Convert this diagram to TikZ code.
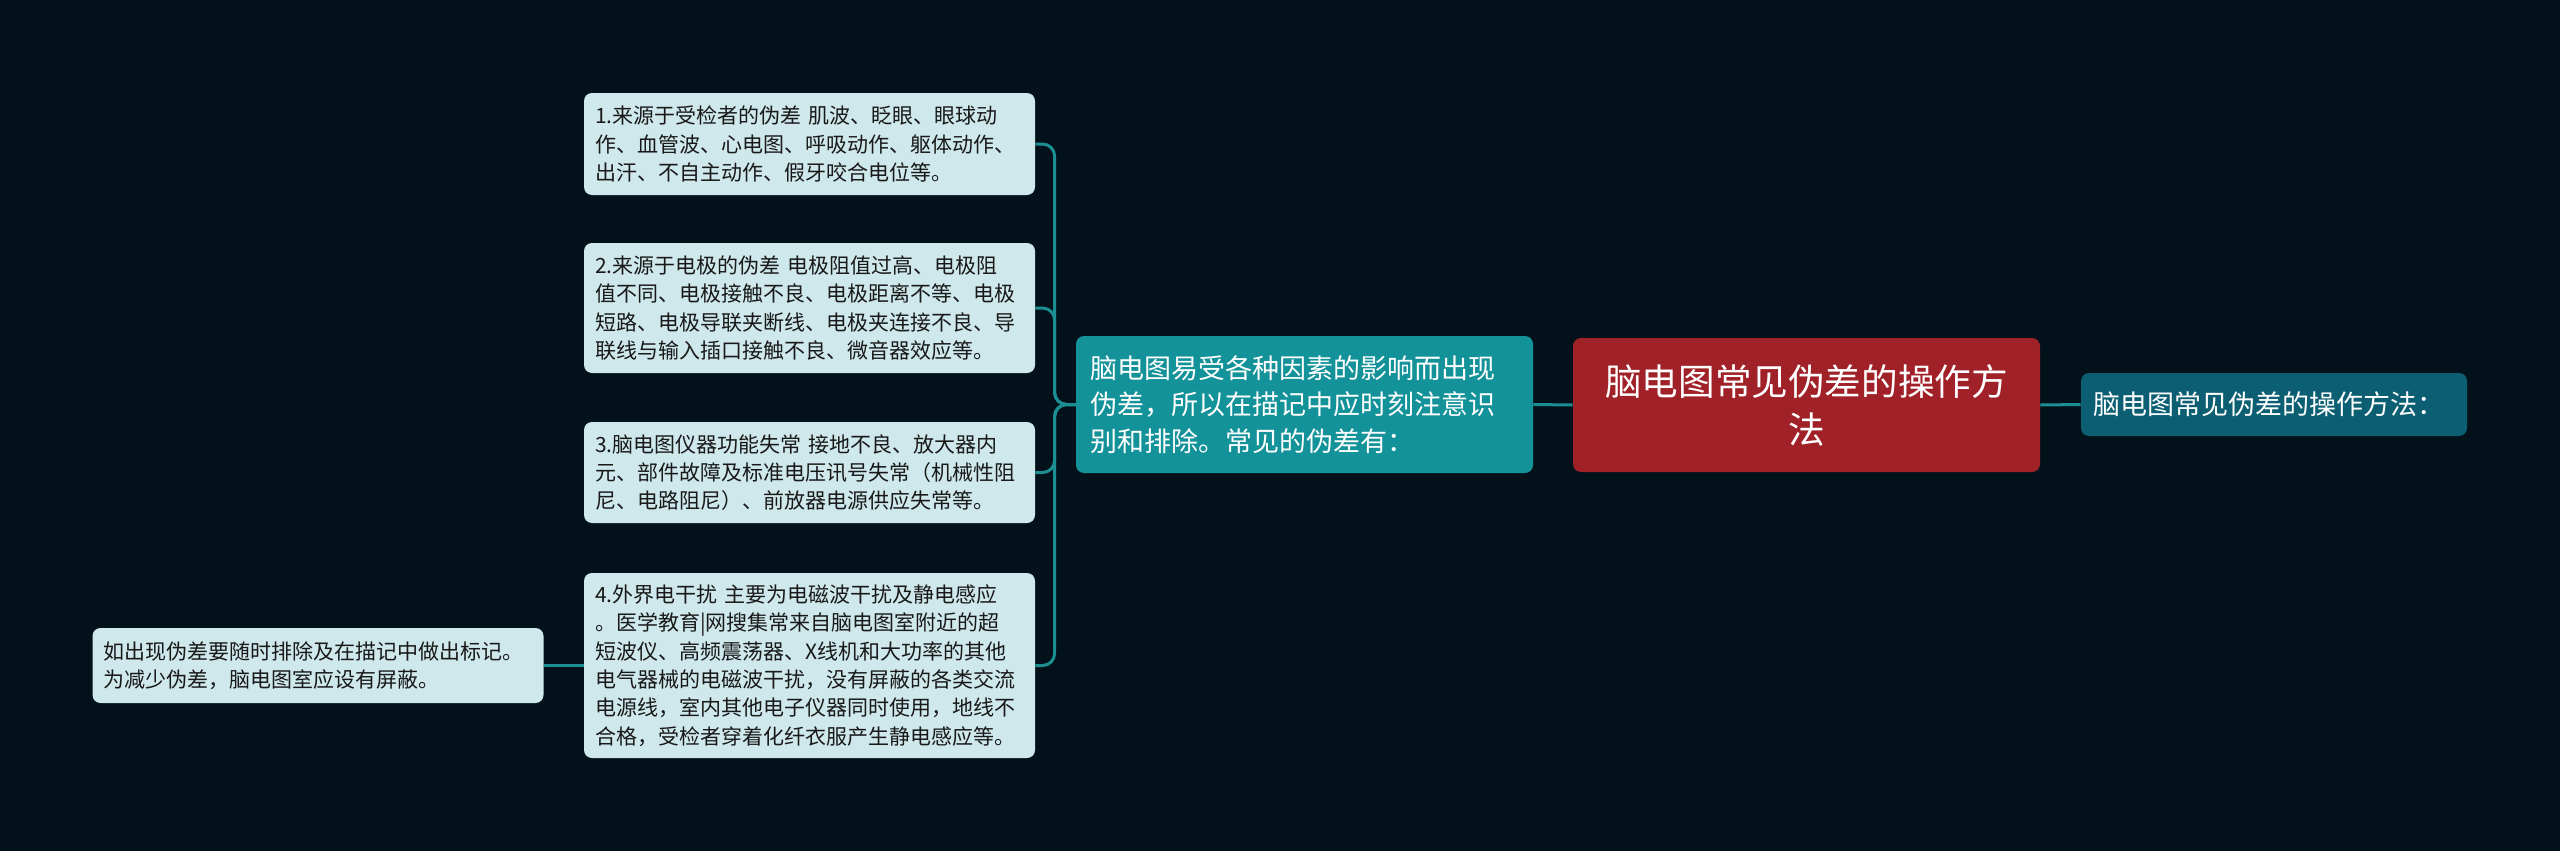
\documentclass[tikz,border=0pt]{standalone}
\usepackage{fontspec}
\setmainfont{Noto Sans CJK SC}

\definecolor{bgcol}{HTML}{03121A}
\definecolor{leafcol}{HTML}{CFE8EB}
\definecolor{midcol}{HTML}{13929A}
\definecolor{rootcol}{HTML}{A02228}
\definecolor{tipcol}{HTML}{0C5F72}
\definecolor{linkcol}{HTML}{1C8F93}

\tikzset{
  leaf/.style={fill=leafcol, text=black!90, rounded corners=4pt, align=left,
    inner xsep=5.5pt, text width=214.5pt, font=\fontsize{10.5}{14.15}\selectfont},
  midbox/.style={fill=midcol, text=white, rounded corners=4pt, align=left,
    inner xsep=7pt, text width=214.5pt, minimum height=68.5pt,
    font=\fontsize{13.5}{18.3}\selectfont},
  rootbox/.style={fill=rootcol, text=white, rounded corners=4pt, align=center,
    inner xsep=6.75pt, text width=220pt, minimum height=67pt,
    font=\fontsize{18.3}{24}\selectfont},
  tipbox/.style={fill=tipcol, text=white, rounded corners=4pt, align=left,
    inner xsep=6pt, text width=181pt, minimum height=31.5pt,
    font=\fontsize{13.5}{18}\selectfont},
  link/.style={draw=linkcol, line width=1.5pt, rounded corners=6pt}
}

\begin{document}
\begin{tikzpicture}[x=0.5pt, y=-0.5pt]

        %background
        \fill[bgcol] (0,0) rectangle (2560,851);

        %root and the right tip
        \node[rootbox] (root) at (1806.5,405) {脑电图常见伪差的操作方\\法};
        \node[tipbox] (tip) at (2274,404.5) {脑电图常见伪差的操作方法：};

        %middle summary
        \node[midbox] (mid) at (1304.5,404.5) {脑电图易受各种因素的影响而出现\\伪差，所以在描记中应时刻注意识\\别和排除。常见的伪差有：};

        %the four kinds of artefacts
        \node[leaf, minimum height=51pt] (src1) at (809.5,144) {1.来源于受检者的伪差 肌波、眨眼、眼球动\\作、血管波、心电图、呼吸动作、躯体动作、\\出汗、不自主动作、假牙咬合电位等。};
        \node[leaf, minimum height=65pt] (src2) at (809.5,308) {2.来源于电极的伪差 电极阻值过高、电极阻\\值不同、电极接触不良、电极距离不等、电极\\短路、电极导联夹断线、电极夹连接不良、导\\联线与输入插口接触不良、微音器效应等。};
        \node[leaf, minimum height=50.5pt] (src3) at (809.5,472.5) {3.脑电图仪器功能失常 接地不良、放大器内\\元、部件故障及标准电压讯号失常（机械性阻\\尼、电路阻尼）、前放器电源供应失常等。};
        \node[leaf, minimum height=92.5pt] (src4) at (809.5,665.5) {4.外界电干扰 主要为电磁波干扰及静电感应\\。医学教育|网搜集常来自脑电图室附近的超\\短波仪、高频震荡器、X线机和大功率的其他\\电气器械的电磁波干扰，没有屏蔽的各类交流\\电源线，室内其他电子仪器同时使用，地线不\\合格，受检者穿着化纤衣服产生静电感应等。};

        %note on the far left
        \node[leaf, minimum height=37.5pt] (note) at (318,665.5) {如出现伪差要随时排除及在描记中做出标记。\\为减少伪差，脑电图室应设有屏蔽。};

        %connectors
        \draw[link] (root.east) -- (tip.west);
        \draw[link] (root.west) -- (mid.east);
        \foreach \k in {src1,src2,src3,src4}
            \draw[link] (mid.west) -- ++(-21,0) |- (\k.east);
        \draw[link] (src4.west) -- (note.east);

\end{tikzpicture}
\end{document}
